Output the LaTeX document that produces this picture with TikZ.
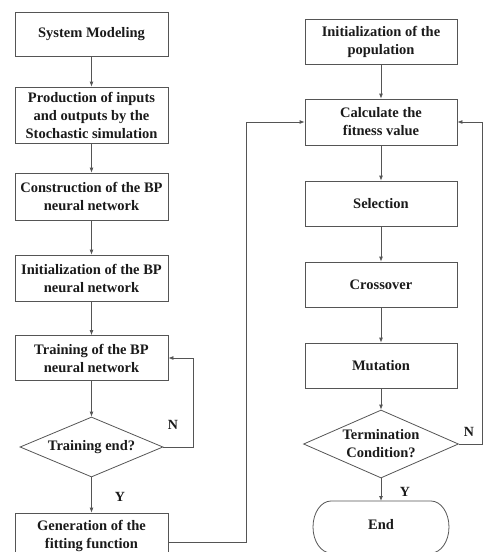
\documentclass[tikz,border=0pt]{standalone}
\usepackage{fontspec}
\setmainfont{Liberation Serif}
\usetikzlibrary{shapes.geometric,arrows.meta,calc}
\definecolor{ln}{HTML}{555555}
\definecolor{tx}{HTML}{1A1A1A}
\begin{document}
\begin{tikzpicture}[x=1pt,y=-1pt,
  every node/.style={text=tx,font=\bfseries\fontsize{14.5}{18}\selectfont,align=center},
  box/.style={draw=ln,line width=0.8pt,rectangle,inner sep=0pt},
  lbox/.style={box,minimum width=153pt},
  rbox/.style={box,minimum width=152pt},
  dec/.style={draw=ln,line width=0.8pt,diamond,inner sep=0pt},
  arr/.style={draw=ln,line width=0.8pt,-{Latex[length=5pt,width=4pt]}},
  lab/.style={font=\bfseries\fontsize{14}{15}\selectfont}]
\path[use as bounding box] (0,0) rectangle (484,552);
\clip (0,0) rectangle (484,552);
% left column
\node[lbox,minimum height=44pt] (sys) at (91.5,34) {System Modeling};
\node[lbox,minimum height=56pt] (prod) at (91.5,115) {Production of inputs\\and outputs by the\\Stochastic simulation};
\node[lbox,minimum height=47pt] (cons) at (91.5,196.5) {Construction of the BP\\neural network};
\node[lbox,minimum height=46pt] (initbp) at (91.5,278) {Initialization of the BP\\neural network};
\node[lbox,minimum height=45pt] (train) at (91.5,358) {Training of the BP\\neural network};
\node[dec,minimum width=143pt,minimum height=60pt,aspect=2.4] (tend) at (91.5,447) {Training end?};
\node[lbox,minimum height=46pt] (gen) at (91.5,536) {Generation of the\\fitting function};
\node[lab] (ln1) at (173,425) {N};
\node[lab] (ly1) at (120,497) {Y};
% right column
\node[rbox,minimum height=45pt] (ipop) at (381,41.5) {Initialization of the\\population};
\node[rbox,minimum height=46pt] (calc) at (381,122) {Calculate the\\fitness value};
\node[rbox,minimum height=45pt] (sel) at (381,203.5) {Selection};
\node[rbox,minimum height=45pt] (cross) at (381,284.5) {Crossover};
\node[rbox,minimum height=45pt] (mut) at (381,365.5) {Mutation};
\node[dec,minimum width=155pt,minimum height=68pt,aspect=2.3] (term) at (381,444) {Termination\\Condition?};
\node[lab] (ln2) at (469,432) {N};
\node[lab] (ly2) at (405,492) {Y};
\node (endn) at (381,525) {End};
\draw[draw=ln,line width=0.8pt] (331,501) -- (431,501)
  arc[start angle=-90,end angle=90,x radius=18,y radius=26] -- (331,553)
  arc[start angle=90,end angle=270,x radius=18,y radius=26] -- cycle;
\coordinate (endtop) at (381,501);
% connectors
\draw[arr] (sys) -- (prod);
\draw[arr] (prod) -- (cons);
\draw[arr] (cons) -- (initbp);
\draw[arr] (initbp) -- (train);
\draw[arr] (train) -- (tend);
\draw[arr] (tend) -- (gen);
\draw[arr] (tend.east) -- (193,447) |- (train.east);
\coordinate (gout) at ($(gen.east)+(0,6)$);
\draw[arr] (gout) -- (246,542) |- (calc.west);
\draw[arr] (ipop) -- (calc);
\draw[arr] (calc) -- (sel);
\draw[arr] (sel) -- (cross);
\draw[arr] (cross) -- (mut);
\draw[arr] (mut) -- (term);
\draw[arr] (term) -- (endtop);
\draw[arr] (term.east) -- (482,444) |- (calc.east);
\end{tikzpicture}
\end{document}
